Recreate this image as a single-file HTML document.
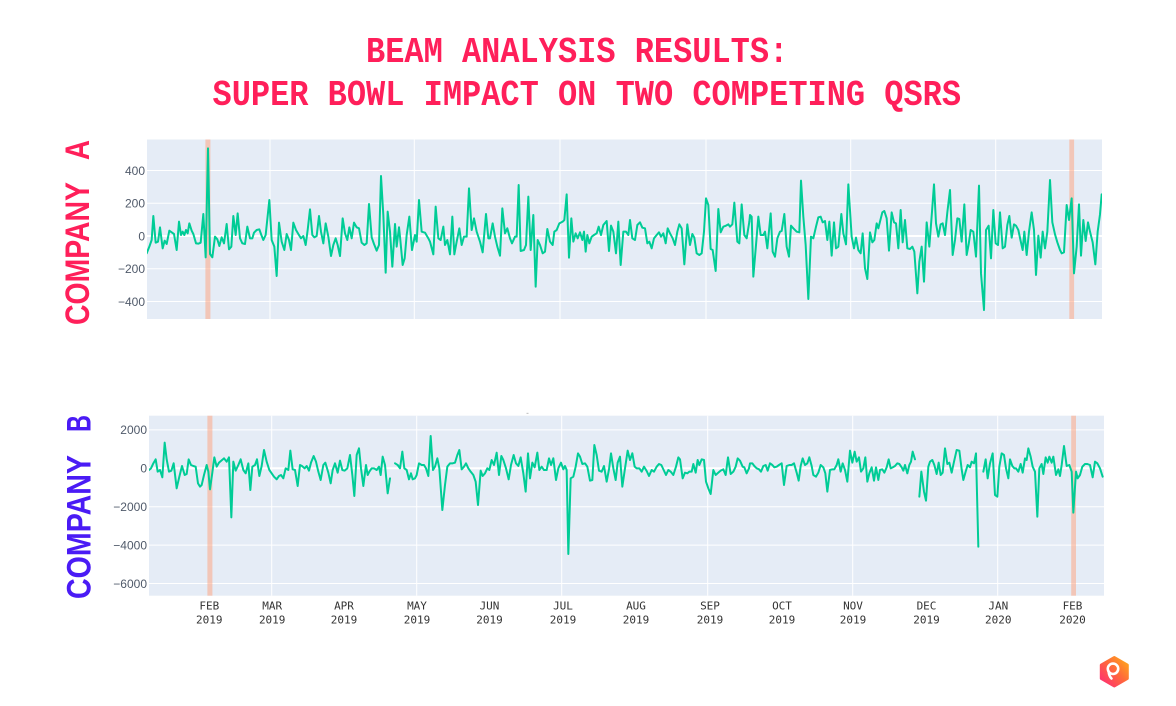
<!DOCTYPE html>
<html>
<head>
<meta charset="utf-8">
<style>
html,body{margin:0;padding:0;background:#ffffff;width:1176px;height:706px;overflow:hidden}
svg{display:block}
</style>
</head>
<body>
<svg width="1176" height="706" viewBox="0 0 1176 706" xmlns="http://www.w3.org/2000/svg">
<defs>
  <clipPath id="clipTop"><rect x="147" y="139.5" width="955" height="179.5"/></clipPath>
  <clipPath id="clipBot"><rect x="149" y="415.7" width="955" height="180"/></clipPath>
  <linearGradient id="logoGrad" x1="0" y1="1" x2="1" y2="0">
    <stop offset="0" stop-color="#ff2a78"/>
    <stop offset="0.55" stop-color="#ff6a3a"/>
    <stop offset="1" stop-color="#ffae1a"/>
  </linearGradient>
</defs>

<rect x="0" y="0" width="1176" height="706" fill="#ffffff"/>

<!-- Title -->
<g font-family="'Liberation Mono','DejaVu Sans Mono',monospace" font-weight="bold" font-size="32" fill="#ff1f5a">
  <text transform="translate(366,62) scale(1,1.14)" x="0" y="0">BEAM ANALYSIS RESULTS:</text>
  <text transform="translate(212.5,105) scale(1,1.14)" x="0" y="0">SUPER BOWL IMPACT ON TWO COMPETING QSRS</text>
</g>

<!-- Company labels -->
<g font-family="'Liberation Sans',sans-serif" font-weight="bold" font-size="34">
  <text transform="translate(89,325) rotate(-90)" fill="#ff1f5a" textLength="143" lengthAdjust="spacingAndGlyphs">COMPANY</text>
  <text transform="translate(89,160) rotate(-90)" fill="#ff1f5a" textLength="20" lengthAdjust="spacingAndGlyphs">A</text>
  <text transform="translate(90.7,599) rotate(-90)" fill="#4a1bf5" textLength="144" lengthAdjust="spacingAndGlyphs">COMPANY</text>
  <text transform="translate(90.7,432) rotate(-90)" fill="#4a1bf5" textLength="17" lengthAdjust="spacingAndGlyphs">B</text>
</g>

<!-- ============ TOP PLOT ============ -->
<rect x="147" y="139.5" width="955" height="179.5" fill="#e5ecf6"/>
<g stroke="#ffffff" stroke-width="1">
  <line x1="270" y1="139.5" x2="270" y2="319"/>
  <line x1="414.3" y1="139.5" x2="414.3" y2="319"/>
  <line x1="560" y1="139.5" x2="560" y2="319"/>
  <line x1="706" y1="139.5" x2="706" y2="319"/>
  <line x1="850.7" y1="139.5" x2="850.7" y2="319"/>
  <line x1="995.7" y1="139.5" x2="995.7" y2="319"/>
  <line x1="147" y1="170.5" x2="1102" y2="170.5"/>
  <line x1="147" y1="203.25" x2="1102" y2="203.25"/>
  <line x1="147" y1="268.75" x2="1102" y2="268.75"/>
  <line x1="147" y1="301.5" x2="1102" y2="301.5"/>
</g>
<line x1="147" y1="236" x2="1102" y2="236" stroke="#ffffff" stroke-width="2"/>
<rect x="205.4" y="139.5" width="5" height="179.5" fill="rgb(255,160,122)" fill-opacity="0.5"/>
<rect x="1069.3" y="139.5" width="4.8" height="179.5" fill="rgb(255,160,122)" fill-opacity="0.5"/>

<g clip-path="url(#clipTop)" fill="none" stroke="#00cc96" stroke-width="2" stroke-linejoin="round" stroke-linecap="round">
  <g transform="translate(0,130) scale(0.333333)">
    <polyline vector-effect="non-scaling-stroke" points="440,370 448,350 455,330 460,258 467,338 474,335 480,292 488,355 494,332 500,342 508,302 515,307 522,312 530,360 537,275 543,315 548,305 553,315 558,300 563,310 568,280 575,302 580,312 588,340 595,341 602,338 610,252 617,382 624,55 630,372 637,382 645,320 652,328 658,348 665,322 672,340 680,282 687,358 694,350 700,258 707,315 713,250 720,325 727,340 735,342 742,290 750,325 757,325 762,308 770,300 778,298 784,315 790,330 797,315 808,210 815,330 823,350 830,438 837,278 845,335 853,360 860,312 867,330 873,360 880,278 888,300 895,312 903,325 910,318 917,345 923,300 930,238 937,315 943,322 950,318 957,258 963,305 970,340 977,280 985,320 993,378 1000,345 1007,325 1013,345 1020,378 1028,265 1035,310 1042,330 1048,292 1055,325 1062,278 1070,292 1077,295 1085,338 1093,345 1100,340 1107,222 1115,322 1122,342 1130,362 1137,345 1143,138 1150,255 1157,428 1163,245 1170,305 1177,410 1185,282 1190,350 1197,292"/>
  </g>
  <g transform="translate(400,135) scale(0.333333)">
    <polyline vector-effect="non-scaling-stroke" points="-3,277 0,305 8,390 14,370 20,300 28,245 36,345 45,300 50,320 57,195 65,290 75,293 85,310 90,320 100,358 107,215 115,310 122,315 130,275 135,330 142,315 150,358 157,245 163,358 170,320 178,280 185,330 192,305 200,305 207,160 215,285 222,250 230,290 240,320 248,352 258,237 265,310 270,310 278,265 285,305 292,335 300,362 307,220 315,295 322,280 330,310 336,325 345,305 350,305 356,150 362,348 372,345 378,330 385,185 392,345 400,240 407,455 413,315 420,330 428,355 435,350 442,282 450,320 458,330 463,290 470,285 478,265 488,260 493,255 500,178 507,368 514,250 520,320 527,295 533,310 540,292 547,315 552,290 557,350 562,300 568,325 575,305 582,300 590,295 596,275 603,300 610,270 620,258 627,348 633,272 640,290 648,355 655,260 662,390 670,290 678,290 685,300 690,255 697,310 705,315 712,270 720,262 727,278 735,280 742,325 748,320 755,340 762,310 770,300 777,292 783,305 790,295 797,325 803,280 810,295 818,310 825,330 832,290 838,268 845,280 853,388 862,268 870,330 877,297 883,308 890,355 898,360 905,355 912,290 918,190 925,210 932,342 938,345 947,408 955,222 962,292 970,275 978,272 985,268 990,275 997,268 1003,203 1012,320 1018,325 1025,208 1033,300 1040,310 1048,260"/>
  </g>
  <g transform="translate(750,135) scale(0.333333)">
    <polyline vector-effect="non-scaling-stroke" points="-2,260 0,240 5,245 10,425 18,330 25,245 32,300 40,300 45,290 52,340 62,235 68,350 75,365 82,310 90,290 95,288 103,237 110,335 117,365 123,272 130,280 140,290 148,292 153,137 160,245 167,330 175,492 183,305 190,310 198,275 205,247 212,245 218,262 225,258 232,315 238,260 245,362 252,262 258,340 265,335 274,237 280,295 288,328 295,148 305,305 312,340 318,308 325,345 332,355 338,295 345,400 352,432 360,292 367,322 373,315 380,265 385,280 390,260 397,232 403,228 410,250 417,347 425,232 432,262 438,265 445,340 452,225 458,322 465,255 472,340 480,342 487,335 493,350 502,475 508,380 515,335 522,440 530,262 538,335 546,230 552,148 558,265 565,305 572,268 578,265 585,300 592,232 600,165 608,360 615,315 622,250 628,252 635,320 643,208 650,360 656,328 662,285 670,290 678,365 687,152 693,415 702,525 708,285 716,272 723,370 730,225 737,325 744,330 750,232 758,340 765,335 772,270 778,243 785,308 792,268 798,272 805,285 812,318 818,345 823,290 830,360 837,290 845,232 852,285 858,420 865,302 872,368 878,290 885,340 892,290 900,135 907,262 915,298 922,322 930,345 935,355 942,352 950,210 957,255 965,190 972,415 980,335 987,208 993,362 1000,255 1007,318 1014,262 1020,290 1028,322 1036,388 1043,290 1050,238 1055,178"/>
  </g>
</g>

<g font-family="'Liberation Sans',sans-serif" font-size="12" fill="#505a6a" text-anchor="end">
  <text x="145" y="174.8">400</text>
  <text x="145" y="207.5">200</text>
  <text x="145" y="240.3">0</text>
  <text x="145" y="273">−200</text>
  <text x="145" y="305.8">−400</text>
</g>

<!-- ============ BOTTOM PLOT ============ -->
<rect x="149" y="415.7" width="955" height="180" fill="#e5ecf6"/>
<g stroke="#ffffff" stroke-width="1">
  <line x1="271.7" y1="415.7" x2="271.7" y2="595.7"/>
  <line x1="416.7" y1="415.7" x2="416.7" y2="595.7"/>
  <line x1="561.7" y1="415.7" x2="561.7" y2="595.7"/>
  <line x1="707.7" y1="415.7" x2="707.7" y2="595.7"/>
  <line x1="852.7" y1="415.7" x2="852.7" y2="595.7"/>
  <line x1="997.7" y1="415.7" x2="997.7" y2="595.7"/>
  <line x1="149" y1="429.9" x2="1104" y2="429.9"/>
  <line x1="149" y1="506.7" x2="1104" y2="506.7"/>
  <line x1="149" y1="545.1" x2="1104" y2="545.1"/>
  <line x1="149" y1="583.5" x2="1104" y2="583.5"/>
</g>
<line x1="149" y1="468.3" x2="1104" y2="468.3" stroke="#ffffff" stroke-width="2"/>
<rect x="207.4" y="415.7" width="5" height="180" fill="rgb(255,160,122)" fill-opacity="0.5"/>
<rect x="1071.2" y="415.7" width="4.8" height="180" fill="rgb(255,160,122)" fill-opacity="0.5"/>
<rect x="526.5" y="412.8" width="2" height="1.2" fill="#c8c8c8"/>

<g clip-path="url(#clipBot)" fill="none" stroke="#00cc96" stroke-width="2" stroke-linejoin="round" stroke-linecap="round">
  <g transform="translate(0,400) scale(0.333333)">
    <polyline vector-effect="non-scaling-stroke" points="447,210 453,205 460,190 467,178 473,215 480,210 487,232 494,128 500,178 507,215 514,212 521,190 530,265 538,230 546,198 554,225 560,222 566,178 573,195 580,198 587,200 594,250 600,260 605,255 612,225 620,195 625,215 630,268 637,218 643,172 650,200 657,188 664,182 672,175 680,185 687,172 694,352 700,185 707,212 715,195 722,178 730,210 737,220 745,190 751,270 757,200 765,195 771,178 778,228 785,198 792,150 800,185 808,210 815,220 822,230 830,238 837,228 843,225 850,235 857,205 865,210 871,152 878,208 885,210 893,258 900,195 906,198 914,205 920,198 927,212 933,188 941,168 948,185 955,215 962,240 970,195 976,188 985,218 992,250 998,210 1005,190 1013,218 1020,182 1027,210 1034,212 1042,205 1050,165 1057,225 1063,288 1070,165 1077,145 1083,205 1090,258 1098,195 1103,225 1108,215 1115,205 1122,205 1130,210 1137,200 1142,225 1148,170 1155,195 1163,280 1170,235"/>
    <polyline vector-effect="non-scaling-stroke" points="1185,190 1193,195"/>
  </g>
  <g transform="translate(400,410) scale(0.333333)">
    <polyline vector-effect="non-scaling-stroke" points="-7,165 0,175 7,125 13,175 20,180 27,208 33,190 38,208 45,205 50,195 57,160 65,165 72,165 78,175 85,198 92,78 99,180 105,170 112,145 118,175 127,300 135,225 142,170 150,160 158,160 165,158 172,135 178,120 185,178 192,170 198,160 205,175 212,185 220,195 227,215 234,285 242,182 248,198 255,190 262,175 268,180 275,150 282,165 290,128 297,195 304,138 310,150 318,175 326,208 333,165 341,135 348,160 355,168 362,142 370,190 377,245 384,130 390,205 397,158 404,172 412,128 418,180 425,170 432,180 440,180 447,145 453,165 460,145 468,210 475,175 483,158 490,178 495,168 500,180 505,432 512,205 520,200 527,170 534,130 540,140 547,162 555,160 562,170 570,212 577,210 583,105 590,135 597,182 605,185 612,168 620,215 627,178 633,130 640,175 647,210 653,158 660,140 667,230 675,175 683,122 690,150 697,130 704,170 710,175 718,175 725,185 732,170 740,183 747,198 755,180 762,185 770,170 777,162 784,165 791,180 798,195 805,180 812,185 820,195 828,170 835,142 840,148 848,205 855,188 862,190 868,185 875,185 880,162 887,188 893,150 898,165 905,148 912,150 918,215 925,235 932,252 940,180 947,195 955,188 962,182 970,178 977,195 984,142 992,192 1000,185 1007,170 1013,145 1020,152 1028,170 1033,172 1040,190 1047,175"/>
  </g>
  <g transform="translate(750,410) scale(0.333333)">
    <polyline vector-effect="non-scaling-stroke" points="-3,175 0,160 7,160 13,168 20,175 27,178 33,185 40,168 47,165 53,182 60,160 67,165 73,172 80,170 87,165 95,160 102,225 110,168 118,165 125,165 132,160 140,188 146,212 152,168 158,145 165,165 172,160 178,142 185,168 190,195 198,200 205,188 212,165 220,172 226,190 232,245 240,180 247,178 253,178 260,165 265,148 272,185 278,160 285,180 292,215 300,122 307,158 314,125 320,155 327,142 333,185 340,175 346,142 352,215 358,190 365,172 372,212 378,172 385,210 390,180 397,178 403,188 410,172 416,148 422,175 428,172 435,168 442,160 448,162 455,172 460,182 465,165 472,190 478,165 483,155 488,125 495,148"/>
    <polyline vector-effect="non-scaling-stroke" points="508,260 514,185 522,245 528,272 535,170 540,155 547,150 553,165 560,192 566,158 572,195 578,188 585,115 592,162 598,158 605,188 612,155 620,120 628,122 635,178 640,210 647,185 653,165 660,172 665,155 672,160 678,130 685,410"/>
    <polyline vector-effect="non-scaling-stroke" points="700,185 707,148 713,205 720,160 728,130 735,255 742,260 748,170 755,130 762,135 768,175 775,205 780,148 787,168 793,175 798,175 805,185 812,162 818,188 825,145 830,150 835,115 842,140 848,170 855,185 862,320 868,175 875,162 880,192 887,142 893,158 898,140 905,158 910,140 918,195 925,178 930,198 935,165 942,108 950,168 958,165 965,185 970,308 978,185 983,205 990,195 997,170 1005,162 1012,162 1020,165 1028,202 1035,155 1042,160 1050,175 1058,200"/>
  </g>
</g>

<g font-family="'Liberation Sans',sans-serif" font-size="12" fill="#505a6a" text-anchor="end">
  <text x="147" y="434.2">2000</text>
  <text x="147" y="472.6">0</text>
  <text x="147" y="511">−2000</text>
  <text x="147" y="549.4">−4000</text>
  <text x="147" y="587.8">−6000</text>
</g>

<!-- X axis labels -->
<g font-family="'DejaVu Sans Mono','Liberation Mono',monospace" font-size="11" fill="#333333" text-anchor="middle">
  <text x="209.3" y="609.5">FEB</text><text x="209.3" y="623.5">2019</text>
  <text x="272.2" y="609.5">MAR</text><text x="272.2" y="623.5">2019</text>
  <text x="344" y="609.5">APR</text><text x="344" y="623.5">2019</text>
  <text x="417" y="609.5">MAY</text><text x="417" y="623.5">2019</text>
  <text x="489.5" y="609.5">JUN</text><text x="489.5" y="623.5">2019</text>
  <text x="563" y="609.5">JUL</text><text x="563" y="623.5">2019</text>
  <text x="636" y="609.5">AUG</text><text x="636" y="623.5">2019</text>
  <text x="710" y="609.5">SEP</text><text x="710" y="623.5">2019</text>
  <text x="782" y="609.5">OCT</text><text x="782" y="623.5">2019</text>
  <text x="853" y="609.5">NOV</text><text x="853" y="623.5">2019</text>
  <text x="926.5" y="609.5">DEC</text><text x="926.5" y="623.5">2019</text>
  <text x="998.3" y="609.5">JAN</text><text x="998.3" y="623.5">2020</text>
  <text x="1072.5" y="609.5">FEB</text><text x="1072.5" y="623.5">2020</text>
</g>

<!-- Logo -->
<polygon points="1114.3,657.5 1127.3,665 1127.3,678.5 1114.3,686 1101.3,678.5 1101.3,665" fill="url(#logoGrad)" stroke="url(#logoGrad)" stroke-width="3" stroke-linejoin="round"/>
<circle cx="1113" cy="668.8" r="5.2" fill="none" stroke="#ffffff" stroke-width="2.6"/>
<path d="M1108.6 671.5 Q1109 676 1111.5 678.5" fill="none" stroke="#ffffff" stroke-width="2.6" stroke-linecap="round"/>
</svg>
</body>
</html>
